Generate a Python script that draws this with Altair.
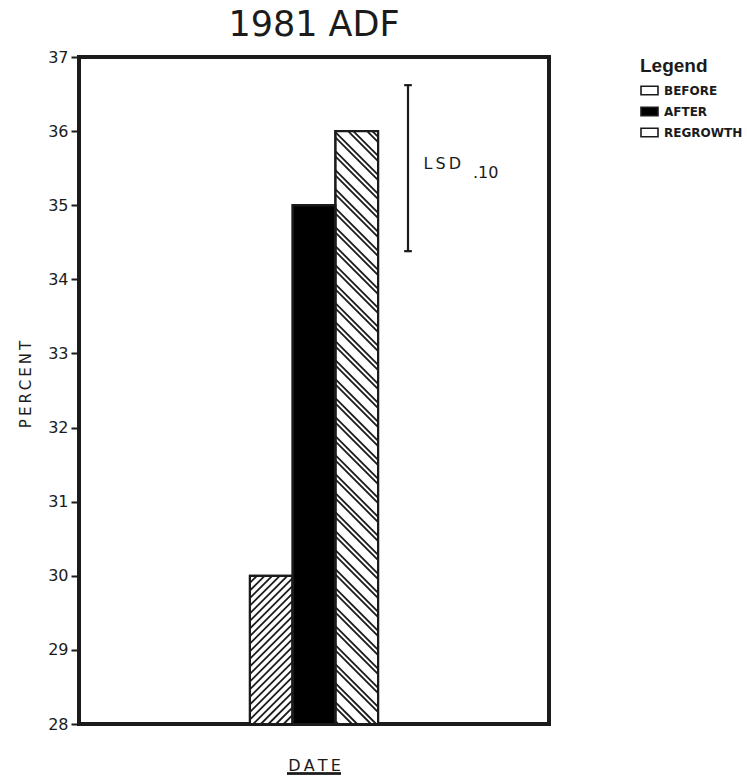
import altair as alt
import numpy as np
import pandas as pd

# ADF percentage by sampling date, 1981
periods = ["BEFORE", "AFTER", "REGROWTH"]
adf_percent = [30.0, 35.0, 36.0]
# least significant difference (alpha = .10), drawn as a floating bar
lsd_low = 34.38
lsd_high = 36.62
y_ticks = [28, 29, 30, 31, 32, 33, 34, 35, 36, 37]

# plot geometry
W, H = 470, 667
X_DOMAIN = [-5.5, 5.5]
Y_DOMAIN = [28, 37]
BAR_LEFT = [-1.5, -0.5, 0.5]      # left edge of each bar in slot units
BAR_WIDTH = 1.0
LSD_X = 2.2
LSD_CAP = 0.09
INK = "#1b1b1b"
THIN = "\u2009"

px_x = W / (X_DOMAIN[1] - X_DOMAIN[0])
px_y = H / (Y_DOMAIN[1] - Y_DOMAIN[0])

bars = pd.DataFrame({
    "period": periods,
    "value": adf_percent,
    "x0": BAR_LEFT,
    "x1": [b + BAR_WIDTH for b in BAR_LEFT],
})
bars["base"] = Y_DOMAIN[0]


def hatch(x0, x1, top, direction, offsets, period):
    """45-degree hatch segments clipped to a bar, returned in data units."""
    X0, X1 = x0 * px_x, x1 * px_x
    Y0, Y1 = 0.0, (top - Y_DOMAIN[0]) * px_y
    if direction == "/":
        cmin, cmax = Y0 - X1, Y1 - X0
    else:
        cmin, cmax = X0 + Y0, X1 + Y1
    segs = []
    c = np.floor(cmin / period) * period - period
    while c <= cmax + period:
        for off in offsets:
            cc = c + off
            if direction == "/":
                xa, xb = max(X0, Y0 - cc), min(X1, Y1 - cc)
                ya, yb = xa + cc, xb + cc
            else:
                xa, xb = max(X0, cc - Y1), min(X1, cc - Y0)
                ya, yb = cc - xa, cc - xb
            if xb - xa > 0.4:
                segs.append({
                    "hx": xa / px_x, "hx2": xb / px_x,
                    "hy": Y_DOMAIN[0] + ya / px_y, "hy2": Y_DOMAIN[0] + yb / px_y,
                })
        c += period
    return segs


hatch_rows = []
hatch_rows += hatch(bars.x0[0], bars.x1[0], bars.value[0], "/", [0.0], 7.6)
hatch_rows += hatch(bars.x0[2], bars.x1[2], bars.value[2], "\\", [0.0, 5.2], 19.0)
hatches = pd.DataFrame(hatch_rows)

lsd = pd.DataFrame({"x": [LSD_X], "lo": [lsd_low], "hi": [lsd_high]})
caps = pd.DataFrame({
    "cx": [LSD_X - LSD_CAP] * 2,
    "cx2": [LSD_X + LSD_CAP] * 2,
    "cy": [lsd_low, lsd_high],
})
lsd_text = pd.DataFrame({
    "tx": [2.56, 3.72],
    "ty": [35.55, 35.44],
    "label": [THIN.join("LSD"), ".10"],
})

x_scale = alt.Scale(domain=X_DOMAIN, nice=False, zero=False)
y_scale = alt.Scale(domain=Y_DOMAIN, nice=False, zero=False)
x_axis = alt.Axis(title=THIN.join("DATE"), labels=False, ticks=False, domain=False, grid=False,
                  titleFont="DejaVu Sans", titleFontSize=16, titleFontWeight="normal",
                  titleColor=INK, titleY=46, titleBaseline="alphabetic")
y_axis = alt.Axis(title=THIN.join("PERCENT"), values=y_ticks, grid=False, domain=False,
                  tickSize=8, tickWidth=2, tickColor=INK,
                  labelFont="DejaVu Sans", labelFontSize=16, labelColor=INK, labelPadding=3,
                  titleFont="DejaVu Sans", titleFontSize=15, titleFontWeight="normal",
                  titleColor=INK, titleX=-54, titleY=327, titleAlign="center",
                  titleBaseline="middle")


def X(field):
    return alt.X(f"{field}:Q", scale=x_scale, axis=x_axis)


def Y(field):
    return alt.Y(f"{field}:Q", scale=y_scale, axis=y_axis)


fill_scale = alt.Scale(domain=periods, range=["white", "black", "white"])

# legend swatch: a flat outlined box
box = "M-1,-0.5H1V0.5H-1Z"
legend_props = dict(
    title="Legend", offset=91,
    titleFont="Liberation Sans", titleFontSize=19, titleFontWeight="bold",
    titleColor=INK, titlePadding=5,
    labelFont="DejaVu Sans", labelFontSize=12, labelFontWeight="bold",
    labelColor=INK, labelOffset=5,
    symbolType=box, symbolSize=289, symbolStrokeColor=INK, symbolStrokeWidth=1.6,
    symbolOpacity=1, rowPadding=4,
)

bar_fill = alt.Chart(bars).mark_rect(stroke=INK, strokeWidth=2).encode(
    x=X("x0"), x2="x1", y=Y("value"), y2="base",
    fill=alt.Fill("period:N", scale=fill_scale, legend=alt.Legend(**legend_props)),
)

hatch_lines = alt.Chart(hatches).mark_rule(color=INK, strokeWidth=1.8).encode(
    x=X("hx"), x2="hx2", y=Y("hy"), y2="hy2",
)

bar_edge = alt.Chart(bars).mark_rect(filled=False, stroke=INK, strokeWidth=2.2).encode(
    x=X("x0"), x2="x1", y=Y("value"), y2="base",
)

lsd_bar = alt.Chart(lsd).mark_rule(color=INK, strokeWidth=2.2).encode(
    x=X("x"), y=Y("lo"), y2="hi",
)
lsd_caps = alt.Chart(caps).mark_rule(color=INK, strokeWidth=2.2).encode(
    x=X("cx"), x2="cx2", y=Y("cy"),
)
lsd_label = alt.Chart(lsd_text).mark_text(
    font="DejaVu Sans", fontSize=16, color=INK, align="left", baseline="middle"
).encode(x=X("tx"), y=Y("ty"), text="label:N")

underline = alt.Chart(bars).mark_rule(color=INK, strokeWidth=2).encode(
    x=alt.value(208), x2=alt.value(262), y=alt.value(716.5),
)

chart = alt.layer(
    bar_fill, hatch_lines, bar_edge, lsd_bar, lsd_caps, lsd_label, underline
).properties(
    width=W, height=H,
    autosize=alt.AutoSizeParams(type="none"),
    padding={"left": 79, "top": 57, "right": 198, "bottom": 54},
    title=alt.TitleParams(text="1981 ADF", font="DejaVu Sans", fontSize=35,
                          fontWeight="normal", color=INK, anchor="middle",
                          frame="group", offset=6),
    background="white",
).configure_view(stroke=INK, strokeWidth=4)

chart.save("out.html", embed_options={"renderer": "svg", "actions": False})
